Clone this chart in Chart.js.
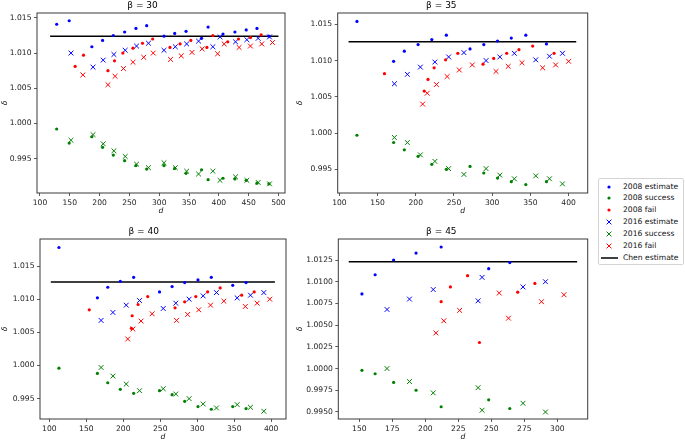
<!DOCTYPE html>
<html>
<head>
<meta charset="utf-8">
<script src="https://cdn.jsdelivr.net/npm/chart.js@4.4.1/dist/chart.umd.min.js"></script>
<style>
body{margin:0;background:#fff;width:685px;height:442px;position:relative;overflow:hidden;font-family:'DejaVu Sans',sans-serif}
canvas{position:absolute}
#legend{position:absolute;left:598px;top:178px;width:84px;height:85px;border:1px solid #d4d4d4;border-radius:2px;background:#fff;font-size:7.6px;color:#111}
#legend .row{position:absolute;left:0;height:10px;line-height:10px;white-space:nowrap}
#legend svg{position:absolute;left:1px;top:0}
#legend span{position:absolute;left:24px;top:0}
</style>
</head>
<body>
<canvas id="c30" width="290" height="216" style="left:0;top:0"></canvas>
<canvas id="c35" width="303" height="216" style="left:295px;top:0"></canvas>
<canvas id="c40" width="291" height="216" style="left:0;top:226px"></canvas>
<canvas id="c45" width="303" height="216" style="left:295px;top:226px"></canvas>
<div id="legend"></div>
<script>
// tick labels
const xTicks = [100, 150, 200, 250, 300, 350, 400, 450, 500];
const xTicks45 = [150, 175, 200, 225, 250, 275, 300];
const yTicks = [0.995, 1.000, 1.005, 1.010, 1.015];
const yTicks45 = [0.9950, 0.9975, 1.0000, 1.0025, 1.0050, 1.0075, 1.0100, 1.0125];

const seriesNames = ['2008 estimate', '2008 success', '2008 fail', '2016 estimate', '2016 success', '2016 fail', 'Chen estimate'];

// beta = 30
const d08_30 = [128, 149, 187, 205, 223, 242, 261, 279, 308, 326, 345, 371, 382, 407, 427, 446, 464, 484];
const est08_30 = [1.0141, 1.0146, 1.0109, 1.0118, 1.0125, 1.0130, 1.0135, 1.0139, 1.0124, 1.0128, 1.0131, 1.0121, 1.0137, 1.0127, 1.0130, 1.0133, 1.0135, 1.0124];
const suc08_30 = [0.9992, 0.9972, 0.9981, 0.9966, 0.9955, 0.9947, 0.9940, 0.9935, 0.9940, 0.9936, 0.9929, 0.9934, 0.9920, 0.9922, 0.9921, 0.9919, 0.9915, 0.9914];
const dFail08_30 = [159, 173, 214, 225, 239, 256, 272, 289, 318, 335, 353, 380, 390, 415, 433, 453, 471];
const fail08_30 = [1.0081, 1.0097, 1.0075, 1.0089, 1.0100, 1.0107, 1.0114, 1.0120, 1.0108, 1.0113, 1.0118, 1.0108, 1.0125, 1.0116, 1.0120, 1.0122, 1.0126];
const d16_30 = [152, 189, 206, 224, 243, 262, 282, 308, 327, 346, 366, 390, 402, 428, 447, 466, 485];
const est16_30 = [1.0100, 1.0080, 1.0090, 1.0098, 1.0104, 1.0110, 1.0114, 1.0104, 1.0109, 1.0113, 1.0117, 1.0109, 1.0123, 1.0116, 1.0119, 1.0121, 1.0123];
const suc16_30 = [0.9976, 0.9984, 0.9971, 0.9961, 0.9953, 0.9942, 0.9937, 0.9944, 0.9937, 0.9932, 0.9928, 0.9932, 0.9919, 0.9924, 0.9919, 0.9916, 0.9914];
const dFail16_30 = [172, 214, 226, 240, 256, 274, 290, 319, 337, 355, 372, 398, 409, 434, 453, 472, 490];
const fail16_30 = [1.0069, 1.0055, 1.0067, 1.0078, 1.0087, 1.0094, 1.0100, 1.0091, 1.0096, 1.0101, 1.0106, 1.0099, 1.0113, 1.0108, 1.0110, 1.0113, 1.0115];

// beta = 35
const d08_35 = [123, 171, 185, 203, 221, 240, 271, 289, 307, 325, 344, 371];
const est08_35 = [1.0154, 1.0099, 1.0113, 1.0122, 1.0129, 1.0135, 1.0116, 1.0122, 1.0127, 1.0131, 1.0135, 1.0123];
const suc08_35 = [0.9997, 0.9987, 0.9977, 0.9968, 0.9957, 0.9950, 0.9954, 0.9945, 0.9938, 0.9933, 0.9929, 0.9933];
const dFail08_35 = [159, 211, 216, 224, 239, 255, 288, 302, 319, 335, 353, 381];
const fail08_35 = [1.0082, 1.0058, 1.0074, 1.0090, 1.0101, 1.0110, 1.0095, 1.0103, 1.0110, 1.0115, 1.0120, 1.0110];
const d16_35 = [172, 189, 206, 225, 243, 263, 292, 310, 329, 357, 375, 392];
const est16_35 = [1.0068, 1.0081, 1.0091, 1.0098, 1.0105, 1.0111, 1.0100, 1.0105, 1.0110, 1.0101, 1.0106, 1.0110];
const suc16_35 = [0.9994, 0.9987, 0.9970, 0.9961, 0.9951, 0.9943, 0.9951, 0.9942, 0.9937, 0.9941, 0.9937, 0.9930];
const dFail16_35 = [209, 215, 227, 241, 257, 274, 305, 321, 339, 366, 383, 400];
const fail16_35 = [1.0040, 1.0055, 1.0067, 1.0078, 1.0087, 1.0094, 1.0085, 1.0092, 1.0097, 1.0090, 1.0094, 1.0099];

// beta = 40
const d08_40 = [113, 165, 179, 196, 214, 249, 266, 283, 301, 319, 348, 366];
const est08_40 = [1.0178, 1.0102, 1.0118, 1.0127, 1.0133, 1.0111, 1.0119, 1.0125, 1.0129, 1.0133, 1.0121, 1.0125];
const suc08_40 = [0.9996, 0.9988, 0.9974, 0.9964, 0.9958, 0.9962, 0.9956, 0.9946, 0.9938, 0.9934, 0.9938, 0.9935];
const dFail08_40 = [154, 211, 212, 220, 233, 270, 283, 298, 314, 331, 360, 377];
const fail08_40 = [1.0084, 1.0056, 1.0075, 1.0092, 1.0104, 1.0087, 1.0096, 1.0104, 1.0111, 1.0117, 1.0106, 1.0111];
const d16_40 = [170, 186, 204, 222, 254, 271, 289, 308, 326, 354, 372, 390];
const est16_40 = [1.0068, 1.0080, 1.0091, 1.0098, 1.0086, 1.0094, 1.0100, 1.0105, 1.0110, 1.0102, 1.0106, 1.0110];
const suc16_40 = [0.9997, 0.9984, 0.9972, 0.9962, 0.9965, 0.9957, 0.9950, 0.9942, 0.9936, 0.9941, 0.9937, 0.9931];
const dFail16_40 = [206, 213, 224, 239, 272, 287, 302, 318, 336, 365, 381, 398];
const fail16_40 = [1.0040, 1.0055, 1.0067, 1.0078, 1.0068, 1.0077, 1.0084, 1.0091, 1.0097, 1.0089, 1.0094, 1.0100];

// beta = 45
const d08_45 = [152, 162, 176, 193, 212, 248, 264];
const est08_45 = [1.0086, 1.0108, 1.0125, 1.0133, 1.0140, 1.0115, 1.0122];
const suc08_45 = [0.9998, 0.9994, 0.9984, 0.9975, 0.9956, 0.9964, 0.9954];
const dFail08_45 = [212, 219, 232, 241, 270, 283];
const fail08_45 = [1.0077, 1.0094, 1.0107, 1.0030, 1.0088, 1.0098];
const d16_45 = [171, 188, 206, 240, 243, 274, 291];
const est16_45 = [1.0068, 1.0080, 1.0091, 1.0078, 1.0105, 1.0094, 1.0100];
const suc16_45 = [1.0000, 0.9985, 0.9972, 0.9978, 0.9952, 0.9960, 0.9950];
const dFail16_45 = [208, 214, 226, 256, 263, 288, 305];
const fail16_45 = [1.0041, 1.0055, 1.0067, 1.0087, 1.0058, 1.0077, 1.0085];

// Chen estimate line per beta
const chenY = [1.0124, 1.0126, 1.0126, 1.0123];
const chenFrom = [117, 112, 102, 142];
const chenTo = [500, 410, 405, 315];

const FONT = "'DejaVu Sans', sans-serif";
const BLUE = '#0000ff', GREEN = '#008000', RED = '#ff0000';

function pts(xs, ys) { return xs.map((x, i) => ({ x: x, y: ys[i] })); }

function dots(label, xs, ys, col) {
  return { label: label, data: pts(xs, ys), pointStyle: 'circle', pointRadius: 1.6,
    pointBackgroundColor: col, pointBorderWidth: 0, pointHoverRadius: 1.6 };
}
function crosses(label, xs, ys, col) {
  return { label: label, data: pts(xs, ys), pointStyle: 'crossRot', pointRadius: 3.4,
    pointBorderColor: col, pointBorderWidth: 1, pointBackgroundColor: col };
}

const framePlugin = {
  id: 'frame',
  afterDraw(chart) {
    const a = chart.chartArea, ctx = chart.ctx;
    ctx.save();
    ctx.strokeStyle = '#3a3a3a';
    ctx.lineWidth = 1;
    ctx.strokeRect(a.left, a.top, a.right - a.left, a.bottom - a.top);
    ctx.restore();
  }
};

function makePlot(id, o) {
  const k = o.k;
  new Chart(document.getElementById(id), {
    type: 'scatter',
    data: {
      datasets: [
        dots(seriesNames[0], o.d08, o.est08, BLUE),
        dots(seriesNames[1], o.d08, o.suc08, GREEN),
        dots(seriesNames[2], o.dFail08, o.fail08, RED),
        crosses(seriesNames[3], o.d16, o.est16, BLUE),
        crosses(seriesNames[4], o.d16, o.suc16, GREEN),
        crosses(seriesNames[5], o.dFail16, o.fail16, RED),
        { label: seriesNames[6], data: [{ x: chenFrom[k], y: chenY[k] }, { x: chenTo[k], y: chenY[k] }],
          showLine: true, borderColor: '#000', borderWidth: 1.5, pointRadius: 0 }
      ]
    },
    options: {
      responsive: false,
      animation: false,
      devicePixelRatio: 1,
      layout: { padding: { left: 0, right: o.padRight, top: 0, bottom: 0 } },
      plugins: {
        legend: { display: false },
        tooltip: { enabled: false },
        title: { display: true, text: o.title, color: '#000',
          font: { family: FONT, size: 9, weight: 'normal' }, padding: { top: 0, bottom: 2.2 } }
      },
      scales: {
        x: {
          type: 'linear', min: o.xMin, max: o.xMax,
          afterBuildTicks: s => { s.ticks = o.xTicks.map(v => ({ value: v })); },
          afterFit: s => { s.height = 23; },
          grid: { display: true, drawOnChartArea: false, drawTicks: true, tickLength: 3, tickColor: '#333', tickWidth: 0.8 },
          border: { display: false },
          ticks: { color: '#222', padding: 2, maxRotation: 0, autoSkip: false,
            font: { family: FONT, size: 7.6 }, callback: v => String(v) },
          title: { display: true, text: 'd', color: '#111', padding: { top: 0, bottom: 0 },
            font: { family: FONT, size: 7.6, style: 'italic' } }
        },
        y: {
          type: 'linear', min: o.yMin, max: o.yMax,
          afterBuildTicks: s => { s.ticks = o.yTicks.map(v => ({ value: v })); },
          afterFit: s => { s.width = o.axisW; },
          grid: { display: true, drawOnChartArea: false, drawTicks: true, tickLength: 3, tickColor: '#333', tickWidth: 0.8 },
          border: { display: false },
          ticks: { color: '#222', padding: 2.5, autoSkip: false,
            font: { family: FONT, size: 7.6 }, callback: v => v.toFixed(o.dec) },
          title: { display: true, text: 'δ', color: '#111', padding: { top: 0, bottom: 0 },
            font: { family: FONT, size: 7.6, style: 'italic' } }
        }
      }
    },
    plugins: [framePlugin]
  });
}

makePlot('c30', { k: 0, title: 'β = 30', d08: d08_30, est08: est08_30, suc08: suc08_30, dFail08: dFail08_30, fail08: fail08_30,
  d16: d16_30, est16: est16_30, suc16: suc16_30, dFail16: dFail16_30, fail16: fail16_30,
  xMin: 95, xMax: 511, yMin: 0.9901, yMax: 1.0157, xTicks: xTicks, yTicks: yTicks, dec: 3, axisW: 37, padRight: 5 });
makePlot('c35', { k: 1, title: 'β = 35', d08: d08_35, est08: est08_35, suc08: suc08_35, dFail08: dFail08_35, fail08: fail08_35,
  d16: d16_35, est16: est16_35, suc16: suc16_35, dFail16: dFail16_35, fail16: fail16_35,
  xMin: 97.8, xMax: 425, yMin: 0.99174, yMax: 1.01656, xTicks: xTicks.slice(0, 7), yTicks: yTicks, dec: 3, axisW: 42.7, padRight: 10.3 });
makePlot('c40', { k: 2, title: 'β = 40', d08: d08_40, est08: est08_40, suc08: suc08_40, dFail08: dFail08_40, fail08: fail08_40,
  d16: d16_40, est16: est16_40, suc16: suc16_40, dFail16: dFail16_40, fail16: fail16_40,
  xMin: 87.4, xMax: 420, yMin: 0.99193, yMax: 1.01908, xTicks: xTicks.slice(0, 7), yTicks: yTicks, dec: 3, axisW: 40, padRight: 3.7 });
makePlot('c45', { k: 3, title: 'β = 45', d08: d08_45, est08: est08_45, suc08: suc08_45, dFail08: dFail08_45, fail08: fail08_45,
  d16: d16_45, est16: est16_45, suc16: suc16_45, dFail16: dFail16_45, fail16: fail16_45,
  xMin: 134.1, xMax: 323, yMin: 0.99419, yMax: 1.01492, xTicks: xTicks45, yTicks: yTicks45, dec: 4, axisW: 43.3, padRight: 10.3 });

// legend
const legendMarks = [
  '<circle cx="9" cy="5" r="1.6" fill="' + BLUE + '"/>',
  '<circle cx="9" cy="5" r="1.6" fill="' + GREEN + '"/>',
  '<circle cx="9" cy="5" r="1.6" fill="' + RED + '"/>',
  '<path d="M6.6 2.6L11.4 7.4M6.6 7.4L11.4 2.6" stroke="' + BLUE + '" stroke-width="1"/>',
  '<path d="M6.6 2.6L11.4 7.4M6.6 7.4L11.4 2.6" stroke="' + GREEN + '" stroke-width="1"/>',
  '<path d="M6.6 2.6L11.4 7.4M6.6 7.4L11.4 2.6" stroke="' + RED + '" stroke-width="1"/>',
  '<path d="M1 5L18 5" stroke="#000" stroke-width="1.5"/>'
];
const leg = document.getElementById('legend');
seriesNames.forEach((name, i) => {
  const row = document.createElement('div');
  row.className = 'row';
  row.style.top = (2.5 + i * 11.9) + 'px';
  row.innerHTML = '<svg width="20" height="10">' + legendMarks[i] + '</svg><span>' + name + '</span>';
  leg.appendChild(row);
});
</script>
</body>
</html>
